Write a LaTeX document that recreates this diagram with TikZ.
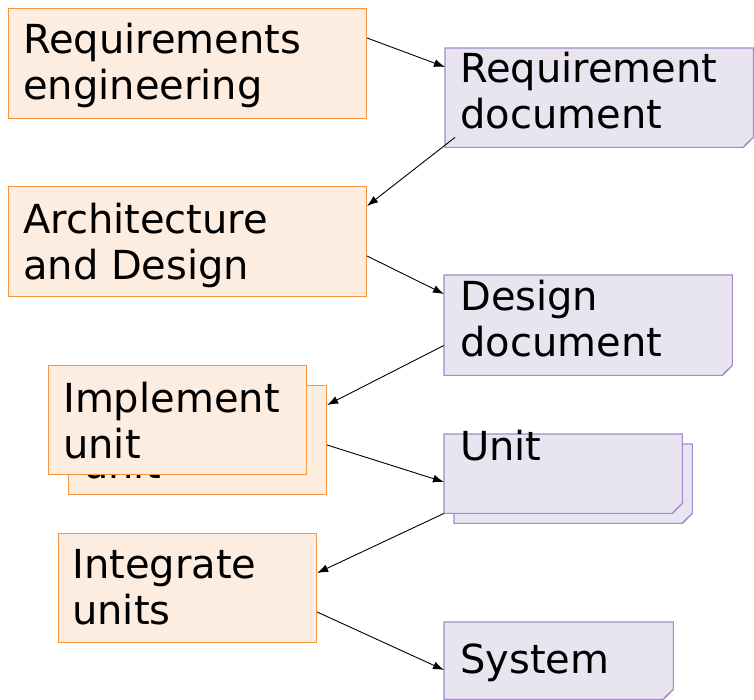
\documentclass[tikz,border=0pt]{standalone}
\usepackage{fontspec}
\setmainfont{DejaVu Sans}
\usetikzlibrary{arrows.meta,calc}

\definecolor{actfill}{HTML}{FDECE0}
\definecolor{actline}{HTML}{F7963F}
\definecolor{docfill}{HTML}{E8E4F0}
\definecolor{docline}{HTML}{A08CC8}
\definecolor{docfold}{HTML}{C4B6DE}

% folded-corner document outline drawn around a (borderless) node
\newcommand\foldbox[1]{%
  \fill[docfill,draw=docline,line width=1.1pt]
    (#1.north west) -- (#1.north east) -- ([yshift=10pt]#1.south east)
    -- ([xshift=-10pt]#1.south east) -- (#1.south west) -- cycle;
  \fill[docfold,draw=docline,line width=0.8pt]
    ([xshift=-10pt]#1.south east) -- ([yshift=10pt]#1.south east)
    -- ([xshift=-7.5pt,yshift=3.5pt]#1.south east) -- cycle;
}

\begin{document}
\begin{tikzpicture}[x=1pt,y=-1pt,
  actbox/.style={draw=actline,fill=actfill,line width=1.1pt,anchor=north west,inner sep=0pt},
  docbox/.style={anchor=north west,inner sep=0pt},
  lbl/.style={anchor=base west,inner sep=0pt,font=\fontsize{40}{46}\selectfont},
  flow/.style={-{Latex[length=11pt,width=8pt]},line width=0.9pt}]
\useasboundingbox (0,0) rectangle (754,699);

% activities (orange)
\node[actbox,minimum width=358pt,minimum height=110pt] (reqeng) at (8,8) {};
\node[lbl] (t1a) at (23,53) {Requirements};
\node[lbl] (t1b) at (23,99) {engineering};

\node[actbox,minimum width=358pt,minimum height=110pt] (arch) at (8,186) {};
\node[lbl] (t2a) at (23,233) {Architecture};
\node[lbl] (t2b) at (23,279) {and Design};

% stacked "Implement unit" boxes; only the bottom of the rear label shows
\node[actbox,minimum width=258pt,minimum height=109pt] (implback) at (68,385) {};
\begin{scope}
  \clip (68,474) rectangle (326,494);
  \node[lbl] (t3d) at (83,478) {unit};
\end{scope}
\node[actbox,minimum width=258pt,minimum height=109pt] (impl) at (48,365) {};
\node[lbl] (t3a) at (63,412) {Implement};
\node[lbl] (t3b) at (63,458) {unit};

\node[actbox,minimum width=258pt,minimum height=109pt] (integ) at (58,533) {};
\node[lbl] (t4a) at (72,578) {Integrate};
\node[lbl] (t4b) at (72,624) {units};

% documents (purple)
\node[docbox,minimum width=308pt,minimum height=99pt] (reqdoc) at (445,48) {};
\foldbox{reqdoc}
\node[lbl] (d1a) at (460,82) {Requirement};
\node[lbl] (d1b) at (460,128) {document};

\node[docbox,minimum width=288pt,minimum height=100pt] (desdoc) at (444,275) {};
\foldbox{desdoc}
\node[lbl] (d2a) at (460,310) {Design};
\node[lbl] (d2b) at (460,356) {document};

\node[docbox,minimum width=238pt,minimum height=79pt] (unitback) at (454,444) {};
\foldbox{unitback}
\node[docbox,minimum width=238pt,minimum height=79pt] (unit) at (444,434) {};
\foldbox{unit}
\node[lbl] (d3a) at (460,460) {Unit};

\node[docbox,minimum width=229pt,minimum height=77pt] (sys) at (444,622) {};
\foldbox{sys}
\node[lbl] (d4a) at (460,673) {System};

% flow of work
\draw[flow] ([yshift=-30pt]reqeng.north east) -- ([yshift=-19pt]reqdoc.north west);
\draw[flow] ([xshift=10pt,yshift=10pt]reqdoc.south west) -- ([yshift=-20pt]arch.north east);
\draw[flow] ([yshift=-70pt]arch.north east) -- ([yshift=-19pt]desdoc.north west);
\draw[flow] ([yshift=30pt]desdoc.south west) -- ([yshift=-20pt]implback.north east);
\draw[flow] ([yshift=-60pt]implback.north east) -- ([yshift=-48pt]unit.north west);
\draw[flow] (unit.south west) -- ([yshift=-40pt]integ.north east);
\draw[flow] ([yshift=-79pt]integ.north east) -- ([yshift=-48pt]sys.north west);
\end{tikzpicture}
\end{document}
